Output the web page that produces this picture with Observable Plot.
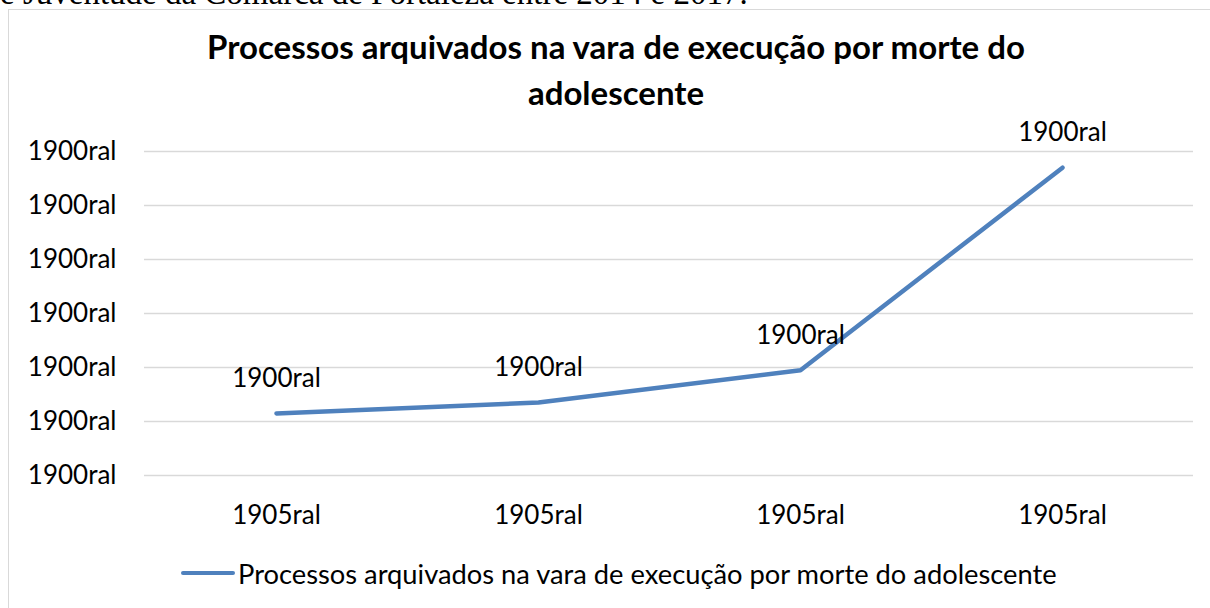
<!DOCTYPE html>
<html>
<head>
<meta charset="utf-8">
<script src="https://cdn.jsdelivr.net/npm/d3@7"></script>
<script src="https://cdn.jsdelivr.net/npm/@observablehq/plot@0.6"></script>
<style>
  html, body { margin: 0; padding: 0; background: #fff; }
  body { width: 1210px; height: 608px; overflow: hidden; position: relative; font-family: "Lato", "Open Sans", sans-serif; }
  #pre { position: absolute; left: 0; top: -23px; font-family: "Liberation Serif", "DejaVu Serif", serif; font-size: 33px; line-height: 1; white-space: nowrap; color: #000; }
  #frame { position: absolute; left: 8px; top: 9px; width: 1300px; height: 700px; border: 1.5px solid #d9d9d9; box-sizing: border-box; }
  #title { position: absolute; left: 0; top: 23px; width: 1232px; text-align: center; font-weight: bold; font-size: 33px; line-height: 46px; color: #000; }
  #chart { position: absolute; left: 0; top: 120px; }
  #legend { position: absolute; left: 181px; top: 556px; display: flex; align-items: center; height: 34px; font-size: 27.3px; color: #000; white-space: nowrap; }
  #legend .sw { width: 54px; height: 4.5px; background: #4f81bd; border-radius: 3px; margin-right: 3px; }
</style>
</head>
<body>
<div id="pre">e Juventude da Comarca de Fortaleza entre 2014 e 2017.</div>
<div id="frame"></div>
<div id="title">Processos arquivados na vara de execução por morte do<br>adolescente</div>
<div id="chart"></div>
<div id="legend"><div class="sw"></div><span id="legtext"></span></div>
<script>
// Data
const years = [2014, 2015, 2016, 2017];
const values = [23, 27, 39, 114];
const yTicks = [0, 20, 40, 60, 80, 100, 120];
const yTickLabel = "1900ral";
const xTickLabel = "1905ral";
const pointLabel = "1900ral";
const seriesName = "Processos arquivados na vara de execução por morte do adolescente";

const data = years.map((y, i) => ({year: y, value: values[i]}));

const lineColor = "#4f81bd";
const font = "Lato, 'Open Sans', sans-serif";

const plot = Plot.plot({
  width: 1210,
  height: 420,
  marginTop: 31,
  marginBottom: 65,
  marginLeft: 144,
  marginRight: 17,
  style: {fontFamily: font, fontSize: "26px", color: "#000", background: "transparent", overflow: "visible"},
  x: {type: "point", domain: years, padding: 0.5, label: null},
  y: {domain: [0, 120], label: null},
  marks: [
    Plot.ruleY(yTicks, {stroke: "#d9d9d9", strokeWidth: 1.5}),
    Plot.axisY(yTicks, {tickSize: 0, tickPadding: 28, tickFormat: () => yTickLabel, fontSize: 26, label: null}),
    Plot.axisX(years, {tickSize: 0, tickPadding: 30, tickFormat: () => xTickLabel, fontSize: 26, label: null}),
    Plot.line(data, {x: "year", y: "value", stroke: lineColor, strokeWidth: 4.5, strokeLinecap: "round", strokeLinejoin: "round"}),
    Plot.text(data, {x: "year", y: "value", text: () => pointLabel, dy: -35, fontSize: 26, fill: "#000"})
  ]
});
document.getElementById("chart").appendChild(plot);
document.getElementById("legtext").textContent = seriesName;
</script>
</body>
</html>
